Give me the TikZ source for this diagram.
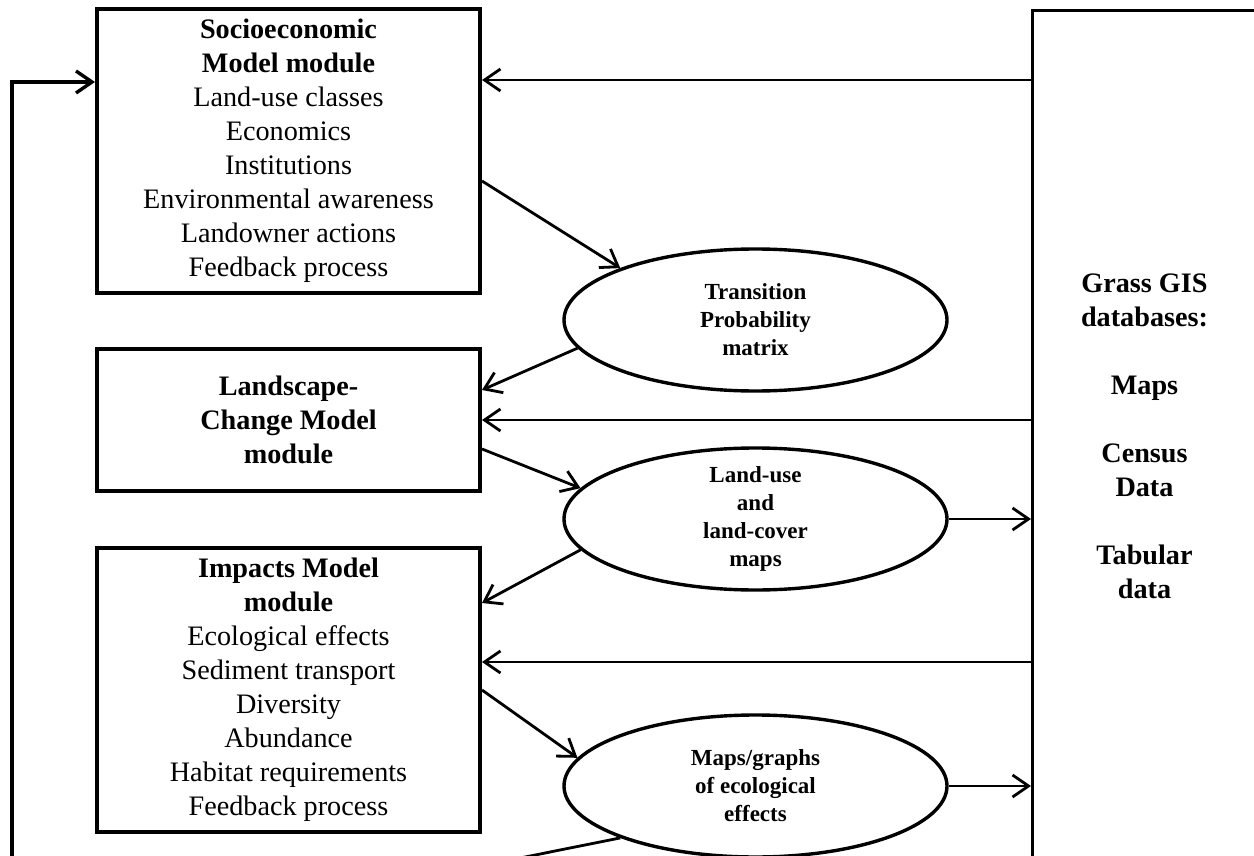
\documentclass[tikz,border=0pt]{standalone}
\usepackage{fontspec}
\setmainfont{Liberation Serif}
\usetikzlibrary{arrows.meta,shapes.geometric}
\tikzset{
  modbox/.style={draw, line width=2pt, inner sep=0pt, minimum width=191.5pt,
    align=center, font=\fontsize{14.1pt}{17pt}\selectfont},
  oval/.style={draw, ellipse, line width=1.7pt, inner sep=0pt,
    minimum width=191.5pt, minimum height=71pt},
  ovaltext/.style={align=center, inner sep=0pt,
    font=\fontsize{11.5pt}{14pt}\selectfont\bfseries},
  conn/.style={line width=1.4pt},
  arr/.style={conn, -{Straight Barb[length=8pt,width=11pt]}}
}
\begin{document}
\begin{tikzpicture}[x=0.5pt,y=-0.5pt]
\useasboundingbox (0,0) rectangle (1254,856);
\fill[white] (0,0) rectangle (1254,856);
\clip (0,0) rectangle (1254,856);

% module boxes
\node[modbox, minimum height=142pt] (b1) at (288.5,151)
  {\textbf{Socioeconomic}\\\textbf{Model module}\\Land-use classes\\Economics\\Institutions\\Environmental awareness\\Landowner actions\\Feedback process};
\node[modbox, minimum height=71pt, font=\fontsize{14.1pt}{17pt}\selectfont\bfseries] (b2) at (288.5,420)
  {Landscape-\\Change Model\\module};
\node[modbox, minimum height=142pt] (b3) at (288.5,690)
  {\textbf{Impacts Model}\\\textbf{module}\\Ecological effects\\Sediment transport\\Diversity\\Abundance\\Habitat requirements\\Feedback process};

% database box (runs off the page on the right and at the bottom)
\node[draw, line width=1.7pt, inner sep=0pt, anchor=north west,
      minimum width=140pt, minimum height=440pt] (gis) at (1031,9) {};
\node[align=center, inner sep=0pt,
      font=\fontsize{14.1pt}{17pt}\selectfont\bfseries] (gistxt) at (1144.5,436)
  {Grass GIS\\databases:\\[17pt]Maps\\[17pt]Census\\Data\\[17pt]Tabular\\data};

% ellipses
\node[oval, label={[ovaltext]center:Transition\\Probability\\matrix}] (e1) at (755.5,320) {};
\node[oval, label={[ovaltext]center:Land-use\\and\\land-cover\\maps}] (e2) at (755.5,519) {};
\node[oval, label={[ovaltext]center:Maps/graphs\\of ecological\\effects}] (e3) at (755.5,786) {};

% connectors
\draw[arr] ([yshift=35.5pt]gis.west |- b1.east) -- ([yshift=35.5pt]b1.east);
\draw[arr] ([yshift=-15pt]b1.east) -- (e1.159);
\draw[arr] (e1.189) -- ([yshift=15pt]b2.east);
\draw[arr] (gis.west |- b2.east) -- (b2.east);
\draw[arr] ([yshift=-14.5pt]b2.east) -- (e2.170);
\draw[arr] (e2.east) -- (e2.east -| gis.west);
\draw[arr] (e2.190) -- ([yshift=43.5pt]b3.east);
\draw[arr] ([yshift=14pt]gis.west |- b3.east) -- ([yshift=14pt]b3.east);
\draw[arr] (b3.east) -- (e3.171);
\draw[arr] (e3.east) -- (e3.east -| gis.west);

% feedback loop
\coordinate (fb) at (12,960);
\draw[conn] (e3.201) -- (fb);
\draw[arr, line width=1.7pt] (fb) |- ([yshift=34.5pt]b1.west);
\end{tikzpicture}
\end{document}
